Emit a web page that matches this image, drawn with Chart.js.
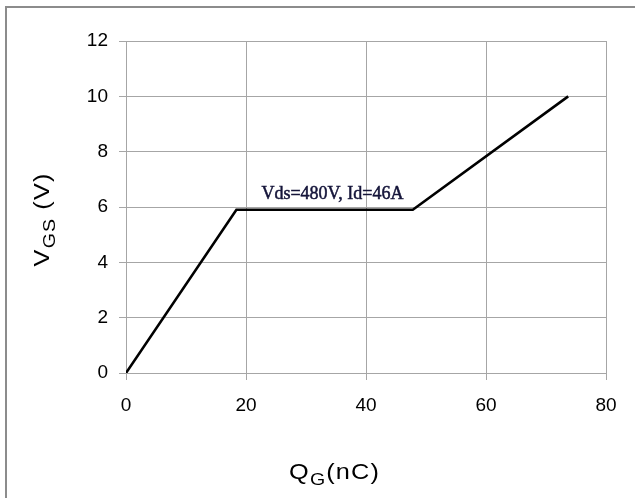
<!DOCTYPE html>
<html>
<head>
<meta charset="utf-8">
<script src="https://cdn.jsdelivr.net/npm/chart.js@4"></script>
<style>
html,body{margin:0;padding:0;background:#fff;}
#wrap{width:635px;height:498px;position:relative;}
</style>
</head>
<body>
<div id="wrap"><canvas id="c" width="635" height="498"></canvas></div>
<script>
const qgValues = [0, 18.4, 47.8, 73.7];
const vgsValues = [0, 5.9, 5.9, 10];
const xTicks = [0, 20, 40, 60, 80];
const yTicks = [0, 2, 4, 6, 8, 10, 12];
const annotationText = "Vds=480V, Id=46A";
const annotationPos = {x: 34.4, y: 6.3};

const points = qgValues.map((q, i) => ({x: q, y: vgsValues[i]}));

function drawSpaced(ctx, parts, startX, baseY, spacing) {
  let x = startX;
  parts.forEach(p => {
    ctx.font = p[1];
    for (const ch of p[0]) {
      ctx.fillText(ch, x, baseY + p[2]);
      x += ctx.measureText(ch).width + spacing;
    }
  });
}
function measureSpaced(ctx, parts, spacing) {
  let t = 0, n = 0;
  parts.forEach(p => {
    ctx.font = p[1];
    for (const ch of p[0]) { t += ctx.measureText(ch).width; n++; }
  });
  return t + spacing * (n - 1);
}

const decor = {
  id: 'decor',
  beforeDraw(chart) {
    const ctx = chart.ctx;
    ctx.save();
    ctx.fillStyle = '#fff';
    ctx.fillRect(0, 0, chart.width, chart.height);
    ctx.strokeStyle = '#8c8c8c';
    ctx.lineWidth = 2;
    ctx.strokeRect(6, 7, 700, 700);
    ctx.restore();
  },
  afterDraw(chart) {
    const ctx = chart.ctx;
    const xs = chart.scales.x, ys = chart.scales.y;
    ctx.save();
    // annotation
    ctx.fillStyle = '#15153a';
    ctx.strokeStyle = '#15153a';
    ctx.lineWidth = 0.5;
    ctx.font = '18px "Liberation Serif", "DejaVu Serif", serif';
    ctx.textAlign = 'center';
    ctx.textBaseline = 'alphabetic';
    const ax = xs.getPixelForValue(annotationPos.x), ay = ys.getPixelForValue(annotationPos.y);
    ctx.fillText(annotationText, ax, ay);
    ctx.strokeText(annotationText, ax, ay);
    ctx.restore();

    const big = '22px "Liberation Sans", Arial, sans-serif';
    const small = '17px "Liberation Sans", Arial, sans-serif';
    const stretch = 1.15;
    // x title Q_G(nC)
    ctx.save();
    ctx.fillStyle = '#000';
    ctx.textAlign = 'left';
    ctx.textBaseline = 'alphabetic';
    const parts = [['Q', big, 0], ['G', small, 6], ['(nC)', big, 0]];
    const sp = 1;
    let total = measureSpaced(ctx, parts, sp) * stretch;
    ctx.translate(334 - total / 2, 479);
    ctx.scale(stretch, 1);
    drawSpaced(ctx, parts, 0, 0, sp);
    ctx.restore();
    // y title V_GS (V)
    ctx.save();
    ctx.fillStyle = '#000';
    ctx.textAlign = 'left';
    ctx.textBaseline = 'alphabetic';
    const yparts = [['V', big, 0], ['GS', small, 6], [' (V)', big, 0]];
    total = measureSpaced(ctx, yparts, sp) * stretch;
    ctx.translate(49, 220);
    ctx.rotate(-Math.PI / 2);
    ctx.translate(-total / 2, 0);
    ctx.scale(stretch, 1);
    drawSpaced(ctx, yparts, 0, 0, sp);
    ctx.restore();
  }
};

new Chart(document.getElementById('c'), {
  type: 'line',
  data: {
    datasets: [{
      data: points,
      borderColor: '#000',
      borderWidth: 2.6,
      pointRadius: 0,
      tension: 0,
      fill: false
    }]
  },
  options: {
    responsive: false,
    animation: false,
    devicePixelRatio: 1,
    layout: {padding: {top: 41, right: 29, left: 0, bottom: 0}},
    plugins: {legend: {display: false}, tooltip: {enabled: false}},
    scales: {
      x: {
        type: 'linear',
        min: 0, max: 80,
        afterBuildTicks: s => { s.ticks = xTicks.map(v => ({value: v})); },
        afterFit: s => { s.height = 125; },
        grid: {color: '#a6a6a6', lineWidth: 1, tickLength: 7, drawTicks: true},
        border: {color: '#a6a6a6', width: 1},
        ticks: {color: '#000', padding: 14, font: {family: '"Liberation Sans", Arial, sans-serif', size: 19}, maxRotation: 0}
      },
      y: {
        type: 'linear',
        min: 0, max: 12,
        afterBuildTicks: s => { s.ticks = yTicks.map(v => ({value: v})); },
        afterFit: s => { s.width = 126; },
        grid: {color: '#a6a6a6', lineWidth: 1, tickLength: 7, drawTicks: true},
        border: {color: '#a6a6a6', width: 1},
        ticks: {color: '#000', padding: 11, font: {family: '"Liberation Sans", Arial, sans-serif', size: 19}}
      }
    }
  },
  plugins: [decor]
});
</script>
</body>
</html>
